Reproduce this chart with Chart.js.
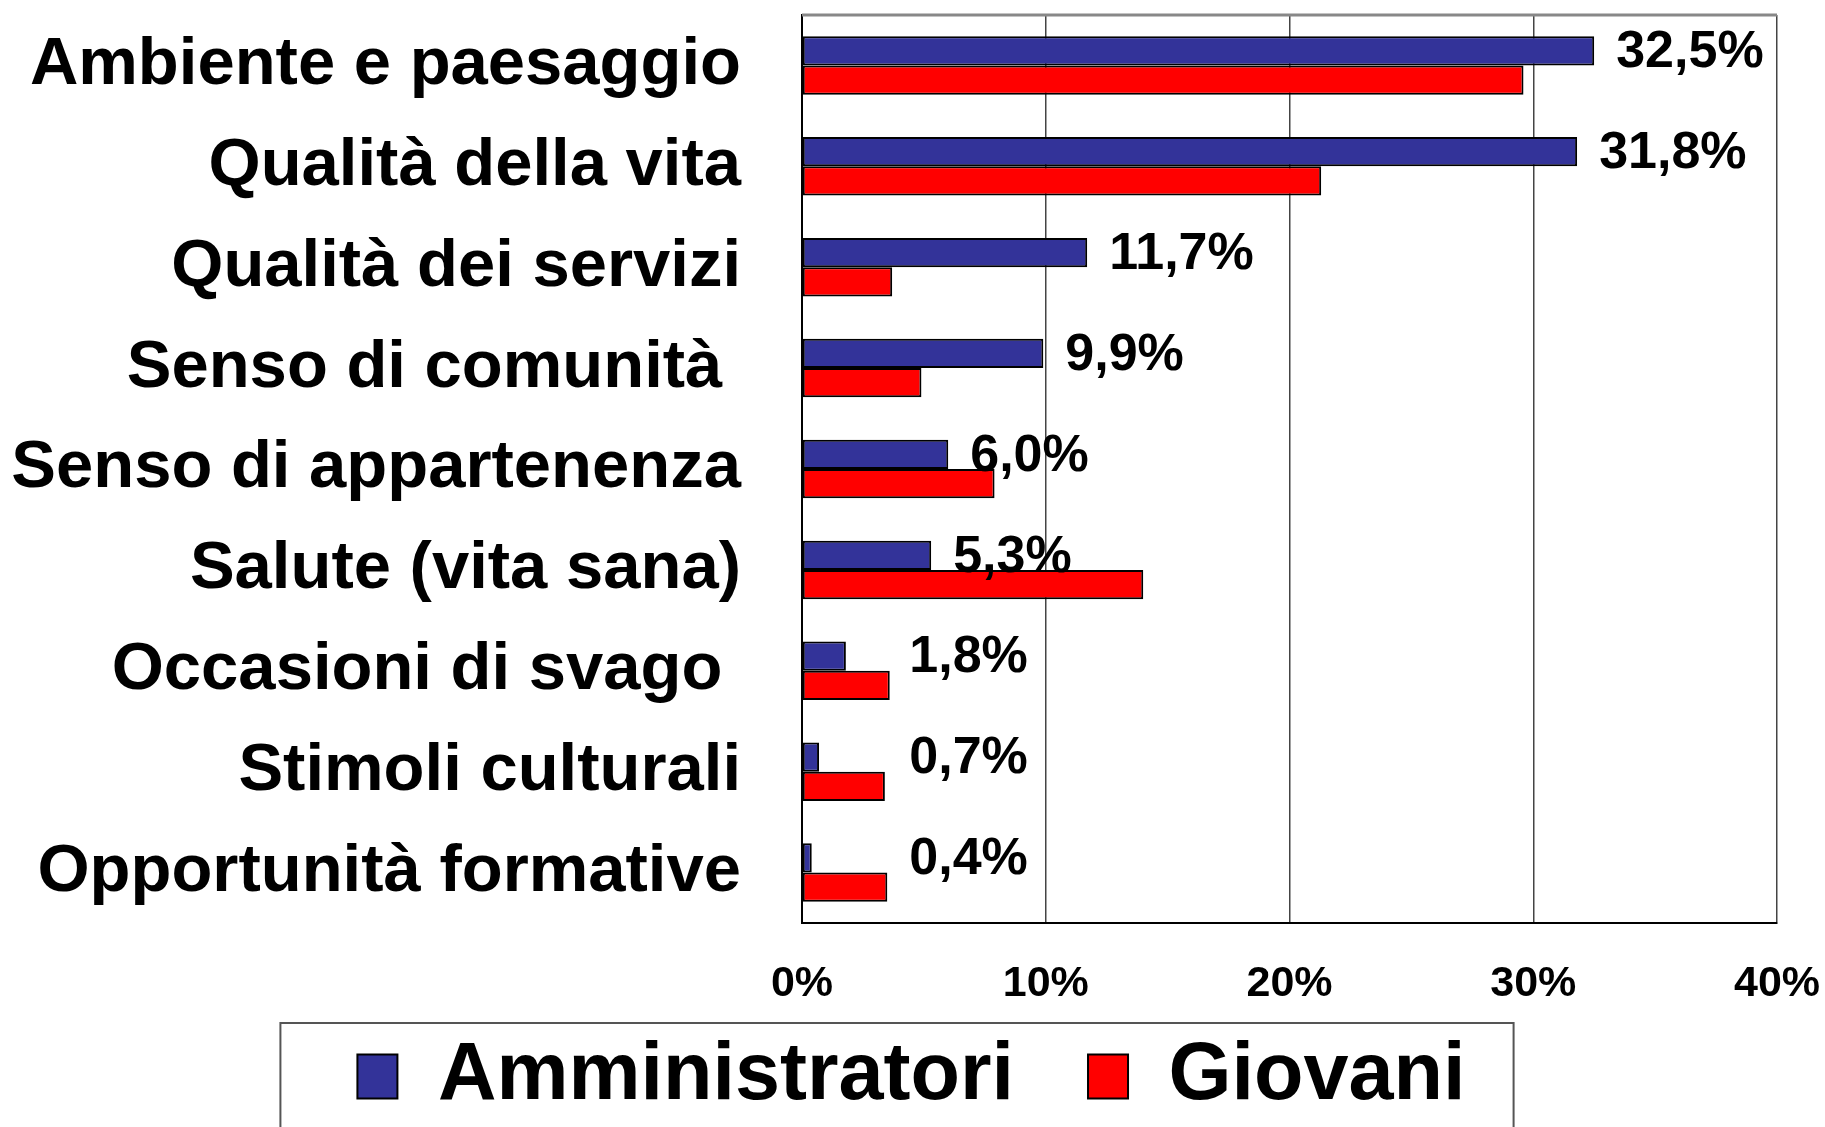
<!DOCTYPE html>
<html>
<head>
<meta charset="utf-8">
<script src="https://cdn.jsdelivr.net/npm/chart.js@4/dist/chart.umd.min.js"></script>
<style>
  html, body { margin: 0; padding: 0; background: #fff; overflow: hidden; }
  #wrap { width: 1825px; height: 1127px; position: relative; }
</style>
</head>
<body>
<div id="wrap"><canvas id="valoriChart"></canvas></div>
<script>
const categories = [
  "Ambiente e paesaggio",
  "Qualità della vita",
  "Qualità dei servizi",
  "Senso di comunità ",
  "Senso di appartenenza",
  "Salute (vita sana)",
  "Occasioni di svago ",
  "Stimoli culturali",
  "Opportunità formative"
];
const amministratori = [32.5, 31.8, 11.7, 9.9, 6.0, 5.3, 1.8, 0.7, 0.4];
const giovani = [29.6, 21.3, 3.7, 4.9, 7.9, 14.0, 3.6, 3.4, 3.5];
const xTicks = [0, 10, 20, 30, 40];

Chart.defaults.font.family = "'Liberation Sans', Arial, sans-serif";
Chart.defaults.font.weight = "bold";
Chart.defaults.color = "#000";

// value labels next to the Amministratori bars
const valueLabels = {
  id: "valueLabels",
  afterDatasetsDraw(chart) {
    const ctx = chart.ctx;
    const meta = chart.getDatasetMeta(0);
    const xs = chart.scales.x;
    ctx.save();
    ctx.font = "bold 52px 'Liberation Sans', Arial, sans-serif";
    ctx.fillStyle = "#000";
    ctx.textAlign = "left";
    ctx.textBaseline = "middle";
    meta.data.forEach((bar, i) => {
      const v = amministratori[i];
      const x = Math.max(bar.x, xs.getPixelForValue(3.5)) + 22;
      ctx.fillText(v.toFixed(1).replace(".", ",") + "%", x, bar.y + 2);
    });
    ctx.restore();
  }
};

// nudge the legend a little to the right, like the original
const legendShift = {
  id: "legendShift",
  afterLayout(chart) {
    chart.legend.left += 46;
  }
};

// frame: top border of plot + box around the legend
const frames = {
  id: "frames",
  afterDraw(chart) {
    const ctx = chart.ctx;
    const a = chart.chartArea;
    ctx.save();
    ctx.strokeStyle = "#888";
    ctx.lineWidth = 3;
    ctx.beginPath();
    ctx.moveTo(a.left, a.top);
    ctx.lineTo(a.right, a.top);
    ctx.stroke();

    const hb = chart.legend.legendHitBoxes;
    if (hb && hb.length) {
      const last = hb[hb.length - 1];
      const left = hb[0].left - 77;
      const right = last.left + last.width + 48;
      const top = hb[0].top - 13;
      ctx.strokeStyle = "#555";
      ctx.lineWidth = 2;
      ctx.strokeRect(left, top, right - left, chart.height - top + 10);
    }
    ctx.restore();
  }
};

// keep the tick padding from shrinking the plot area
const noPad = (scale) => {
  scale.paddingTop = 0;
  scale.paddingBottom = 0;
  scale.paddingLeft = 0;
  scale.paddingRight = 0;
};

new Chart(document.getElementById("valoriChart"), {
  type: "bar",
  data: {
    labels: categories,
    datasets: [
      {
        label: "Amministratori  ",
        data: amministratori,
        backgroundColor: "#333399",
        borderColor: "#000",
        borderWidth: 2,
        borderSkipped: false,
        barPercentage: 1,
        categoryPercentage: 0.58
      },
      {
        label: "Giovani",
        data: giovani,
        backgroundColor: "#ff0000",
        borderColor: "#000",
        borderWidth: 2,
        borderSkipped: false,
        barPercentage: 1,
        categoryPercentage: 0.58
      }
    ]
  },
  options: {
    indexAxis: "y",
    responsive: true,
    maintainAspectRatio: false,
    animation: false,
    layout: {
      padding: { top: 15, right: 48, bottom: 0, left: 0 }
    },
    scales: {
      x: {
        min: 0,
        max: 40,
        afterBuildTicks: (scale) => {
          scale.ticks = xTicks.map(v => ({ value: v }));
        },
        afterFit: (scale) => {
          noPad(scale);
          scale.height = 84;
        },
        ticks: {
          padding: 35,
          font: { size: 43, weight: "bold" },
          color: "#000",
          callback: (v) => v + "%"
        },
        grid: {
          color: "#444",
          lineWidth: 1.5,
          drawTicks: false
        },
        border: { color: "#000", width: 2 }
      },
      y: {
        afterFit: (scale) => {
          noPad(scale);
          scale.width = 802;
        },
        ticks: {
          padding: 61,
          autoSkip: false,
          font: { size: 67, weight: "bold" },
          color: "#000"
        },
        grid: { display: false, drawTicks: false },
        border: { color: "#000", width: 2 }
      }
    },
    plugins: {
      legend: {
        position: "bottom",
        labels: {
          boxWidth: 40,
          boxHeight: 44,
          padding: 29,
          color: "#000",
          font: { size: 81, weight: "bold" }
        }
      },
      tooltip: { enabled: false }
    }
  },
  plugins: [valueLabels, legendShift, frames]
});
</script>
</body>
</html>
